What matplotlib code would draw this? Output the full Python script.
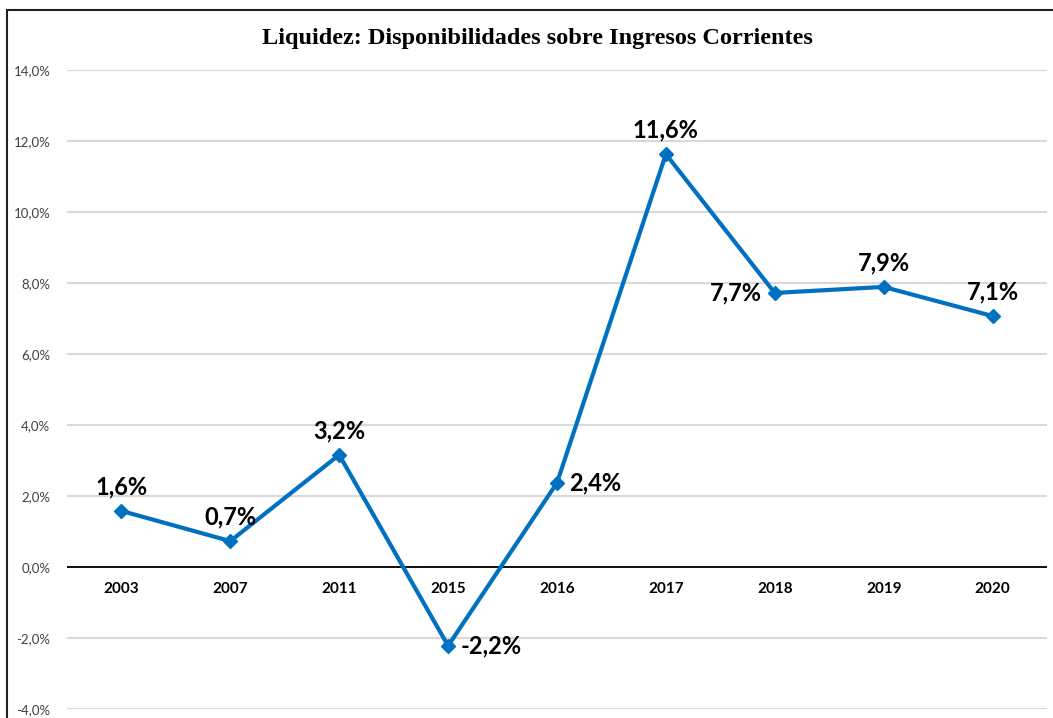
import numpy as np
import matplotlib.pyplot as plt
from matplotlib.patches import Rectangle

# Datos
anios = ['2003', '2007', '2011', '2015', '2016', '2017', '2018', '2019', '2020']
liquidez = [1.58, 0.73, 3.16, -2.22, 2.37, 11.63, 7.72, 7.89, 7.07]
# posicion de cada etiqueta: 'arriba', 'derecha', 'izquierda'
pos_etiqueta = ['arriba', 'arriba', 'arriba', 'derecha', 'derecha',
                'arriba', 'izquierda', 'arriba', 'arriba']

azul = '#0070C0'
fuente = ['Lato', 'DejaVu Sans']

fig = plt.figure(figsize=(10.53, 7.18), dpi=100)
ax = fig.add_axes([0.0636, 0.0125, 0.9307, 0.89])

x = np.arange(len(anios))
ax.plot(x, liquidez, color=azul, lw=3, marker='D', markersize=7, zorder=3)

for xi, v, p in zip(x, liquidez, pos_etiqueta):
    txt = f'{v:.1f}%'.replace('.', ',')
    if p == 'arriba':
        ax.annotate(txt, (xi, v), xytext=(0, 9), textcoords='offset points',
                    ha='center', va='bottom', fontsize=17, fontweight='bold', family=fuente)
    elif p == 'derecha':
        ax.annotate(txt, (xi, v), xytext=(9, 0), textcoords='offset points',
                    ha='left', va='center', fontsize=17, fontweight='bold', family=fuente)
    else:
        ax.annotate(txt, (xi, v), xytext=(-9, 0), textcoords='offset points',
                    ha='right', va='center', fontsize=17, fontweight='bold', family=fuente)

ax.set_xlim(-0.5, len(anios) - 0.5)
ax.set_ylim(-4, 14)
yt = np.arange(-4, 15, 2)
ax.set_yticks(yt)
ax.set_yticklabels([f'{t:.1f}%'.replace('.', ',') for t in yt], family=fuente,
                   fontsize=9.5, color='#404040')
ax.tick_params(axis='y', length=0, pad=12)
ax.set_xticks([])
ax.grid(axis='y', color='#D9D9D9', lw=1.5)
ax.set_axisbelow(True)
ax.axhline(0, color='black', lw=1.3, zorder=2)
for s in ax.spines.values():
    s.set_visible(False)

# etiquetas de años junto al eje 0
for xi, a in zip(x, anios):
    ax.annotate(a, (xi, 0), xytext=(0, -16), textcoords='offset points',
                ha='center', va='center', fontsize=11, fontweight='bold', family=fuente)

fig.text(0.51, 0.946, 'Liquidez: Disponibilidades sobre Ingresos Corrientes',
         ha='center', va='center', fontsize=17.5, fontweight='bold', family='Liberation Serif')

# borde del grafico
fig.patches.append(Rectangle((7 / 1053, -0.1), 1.1, 1 - 10 / 718 + 0.1,
                             transform=fig.transFigure, fill=False,
                             edgecolor='#202020', lw=1.5))

fig.savefig('out.png', dpi=100)
